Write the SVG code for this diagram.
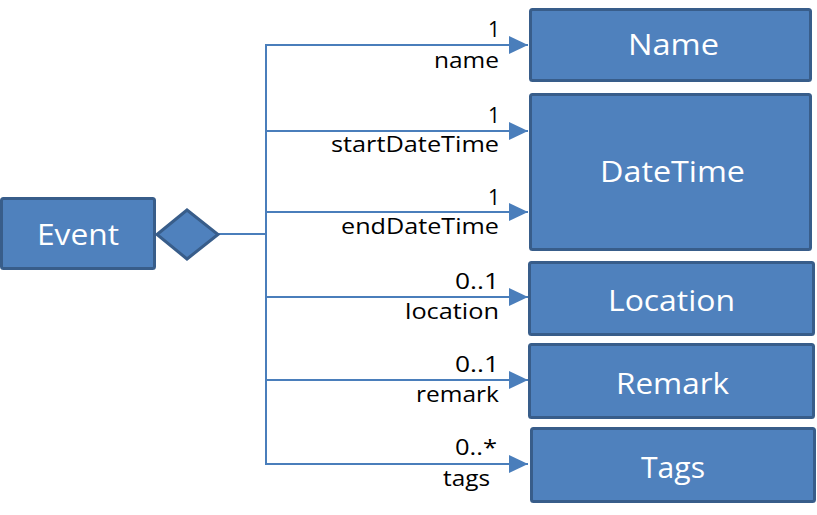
<svg xmlns="http://www.w3.org/2000/svg" width="817" height="515" viewBox="0 0 817 515">
<style>
.box{fill:#4f81bd;stroke:#385d8a;stroke-width:3}
.bt{font-family:"Open Sans","Liberation Sans",sans-serif;font-size:30px;fill:#ffffff}
.lb{font-family:"Open Sans","Liberation Sans",sans-serif;font-size:21px;fill:#000000}
.ln{fill:none;stroke:#4a7ebb;stroke-width:2}
</style>
<defs>
<marker id="arr" markerUnits="userSpaceOnUse" markerWidth="20" markerHeight="20" refX="19" refY="10" orient="auto">
<path d="M0,1 L19,10 L0,19 Z" fill="#4a7ebb"/>
</marker>
</defs>
<g id="connectors">
<line class="ln" x1="218" y1="234" x2="266" y2="234"/>
<line class="ln" x1="266" y1="44" x2="266" y2="465"/>
<line class="ln" x1="266" y1="45" x2="528" y2="45" marker-end="url(#arr)"/>
<line class="ln" x1="266" y1="131" x2="528" y2="131" marker-end="url(#arr)"/>
<line class="ln" x1="266" y1="212" x2="528" y2="212" marker-end="url(#arr)"/>
<line class="ln" x1="266" y1="297" x2="528" y2="297" marker-end="url(#arr)"/>
<line class="ln" x1="266" y1="380" x2="528" y2="380" marker-end="url(#arr)"/>
<line class="ln" x1="266" y1="464" x2="528" y2="464" marker-end="url(#arr)"/>
<text class="lb" x="500" y="37" text-anchor="end">1</text>
<text class="lb" x="434" y="68" textLength="65" lengthAdjust="spacingAndGlyphs">name</text>
<text class="lb" x="500" y="123" text-anchor="end">1</text>
<text class="lb" x="331" y="152" textLength="168" lengthAdjust="spacingAndGlyphs">startDateTime</text>
<text class="lb" x="500" y="205" text-anchor="end">1</text>
<text class="lb" x="341" y="234" textLength="158" lengthAdjust="spacingAndGlyphs">endDateTime</text>
<text class="lb" x="455" y="289" textLength="44" lengthAdjust="spacingAndGlyphs">0..1</text>
<text class="lb" x="405" y="319" textLength="94" lengthAdjust="spacingAndGlyphs">location</text>
<text class="lb" x="455" y="372" textLength="44" lengthAdjust="spacingAndGlyphs">0..1</text>
<text class="lb" x="416" y="402" textLength="83" lengthAdjust="spacingAndGlyphs">remark</text>
<text class="lb" x="455" y="455" textLength="42" lengthAdjust="spacingAndGlyphs">0..*</text>
<text class="lb" x="443" y="486" textLength="47" lengthAdjust="spacingAndGlyphs">tags</text>
</g>
<g id="event">
<rect class="box" x="1.5" y="198.5" width="153" height="70" rx="2"/>
<text class="bt" x="37" y="245" textLength="82" lengthAdjust="spacingAndGlyphs">Event</text>
<polygon class="box" points="157,234.5 187,210 218,234.5 187,259"/>
</g>
<g id="name">
<rect class="box" x="530.5" y="9.5" width="280" height="71" rx="2"/>
<text class="bt" x="628" y="55" textLength="91" lengthAdjust="spacingAndGlyphs">Name</text>
</g>
<g id="datetime">
<rect class="box" x="530.5" y="94.5" width="280" height="155" rx="2"/>
<text class="bt" x="600" y="182" textLength="145" lengthAdjust="spacingAndGlyphs">DateTime</text>
</g>
<g id="location">
<rect class="box" x="529.5" y="262.5" width="284" height="72" rx="2"/>
<text class="bt" x="608" y="311" textLength="127" lengthAdjust="spacingAndGlyphs">Location</text>
</g>
<g id="remark">
<rect class="box" x="529.5" y="344.5" width="284" height="73" rx="2"/>
<text class="bt" x="616" y="394" textLength="113" lengthAdjust="spacingAndGlyphs">Remark</text>
</g>
<g id="tags">
<rect class="box" x="531.5" y="428.5" width="283" height="73" rx="2"/>
<text class="bt" x="641" y="478" textLength="64" lengthAdjust="spacingAndGlyphs">Tags</text>
</g>
</svg>
